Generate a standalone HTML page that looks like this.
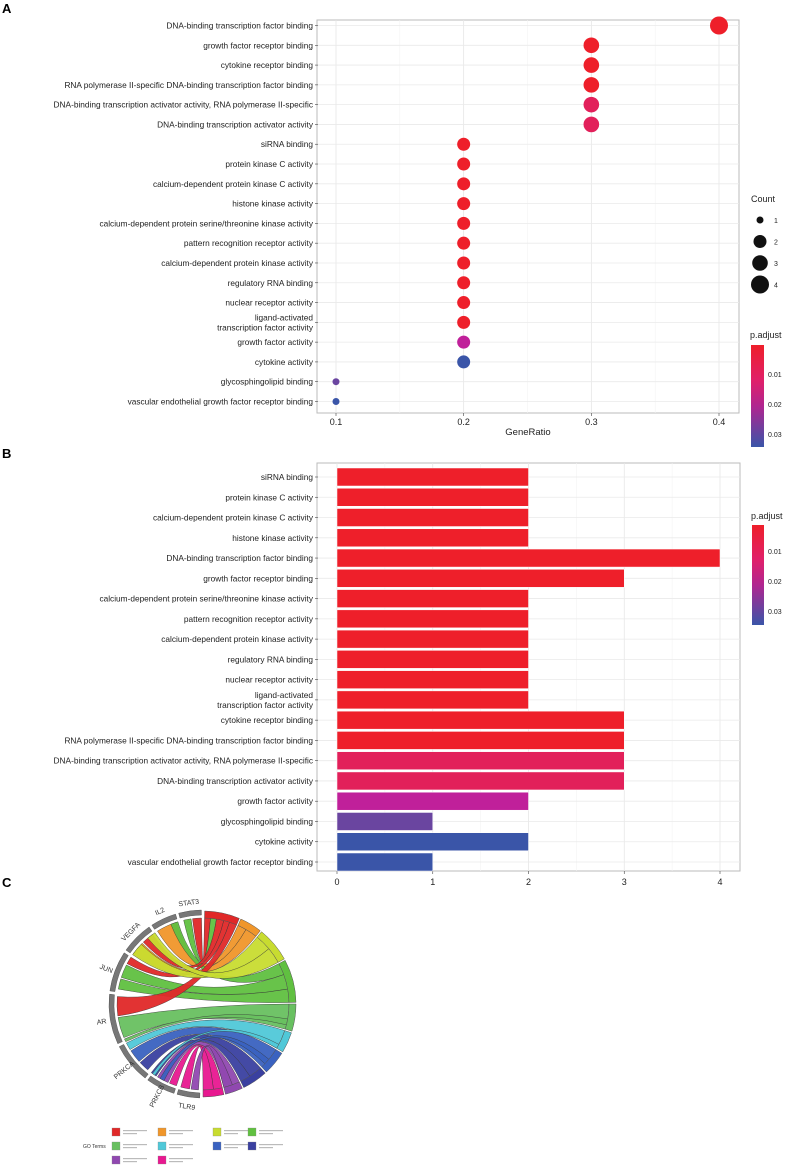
<!DOCTYPE html>
<html><head><meta charset="utf-8"><style>
body{margin:0;background:#fff;}
svg{display:block;font-family:"Liberation Sans",sans-serif;}
</style></head><body>
<svg id="s" width="785" height="1167" viewBox="0 0 785 1167" xmlns="http://www.w3.org/2000/svg">
<text x="2" y="13" font-size="13" font-weight="bold">A</text>
<text x="2" y="458" font-size="13" font-weight="bold">B</text>
<text x="2" y="887" font-size="13" font-weight="bold">C</text>
<g id="A"></g>
<g id="B"></g>
<g id="C"></g>
<defs>
<linearGradient id="pg" x1="0" y1="0" x2="0" y2="1"><stop offset="0" stop-color="#ee1f2a"/><stop offset="0.35" stop-color="#e0206a"/><stop offset="0.6" stop-color="#b02590"/><stop offset="1" stop-color="#3a55a8"/></linearGradient>
</defs>
</svg>
<script>
const NS="http://www.w3.org/2000/svg";
function mk(p,t,a,txt){const e=document.createElementNS(NS,t);for(const k in a)e.setAttribute(k,a[k]);if(txt!==undefined)e.textContent=txt;p.appendChild(e);return e;}
const RED="#ee1f2a",PINK="#e2205a",MAG="#c0209a",BLUE="#3a55a8",PURP="#6a45a0";
// Panel A data
const aTerms=["DNA-binding transcription factor binding","growth factor receptor binding","cytokine receptor binding","RNA polymerase II-specific DNA-binding transcription factor binding","DNA-binding transcription activator activity, RNA polymerase II-specific","DNA-binding transcription activator activity","siRNA binding","protein kinase C activity","calcium-dependent protein kinase C activity","histone kinase activity","calcium-dependent protein serine/threonine kinase activity","pattern recognition receptor activity","calcium-dependent protein kinase activity","regulatory RNA binding","nuclear receptor activity","ligand-activated|transcription factor activity","growth factor activity","cytokine activity","glycosphingolipid binding","vascular endothelial growth factor receptor binding"];
const aRatio=[0.4,0.3,0.3,0.3,0.3,0.3,0.2,0.2,0.2,0.2,0.2,0.2,0.2,0.2,0.2,0.2,0.2,0.2,0.1,0.1];
const aCount=[4,3,3,3,3,3,2,2,2,2,2,2,2,2,2,2,2,2,1,1];
const aColor=[RED,RED,RED,RED,PINK,PINK,RED,RED,RED,RED,RED,RED,RED,RED,RED,RED,MAG,BLUE,PURP,BLUE];
const aTicks=[0.1,0.2,0.3,0.4];
// Panel B data
const bTerms=["siRNA binding","protein kinase C activity","calcium-dependent protein kinase C activity","histone kinase activity","DNA-binding transcription factor binding","growth factor receptor binding","calcium-dependent protein serine/threonine kinase activity","pattern recognition receptor activity","calcium-dependent protein kinase activity","regulatory RNA binding","nuclear receptor activity","ligand-activated|transcription factor activity","cytokine receptor binding","RNA polymerase II-specific DNA-binding transcription factor binding","DNA-binding transcription activator activity, RNA polymerase II-specific","DNA-binding transcription activator activity","growth factor activity","glycosphingolipid binding","cytokine activity","vascular endothelial growth factor receptor binding"];
const bCount=[2,2,2,2,4,3,2,2,2,2,2,2,3,3,3,3,2,1,2,1];
const bColor=[RED,RED,RED,RED,RED,RED,RED,RED,RED,RED,RED,RED,RED,RED,PINK,PINK,MAG,PURP,BLUE,BLUE];
const bTicks=[0,1,2,3,4];

function label(g,txt,x,y){
  const parts=txt.split("|");
  if(parts.length==1){const t=mk(g,"text",{x:x,y:y+3,"font-size":"8.3","text-anchor":"end",fill:"#222"},txt);}
  else parts.forEach((p,i)=>{const t=mk(g,"text",{x:x,y:y+3+(i-0.5)*10,"font-size":"8.3","text-anchor":"end",fill:"#222"},p);});
  mk(g,"line",{x1:x+2,x2:x+5,y1:y,y2:y,stroke:"#444","stroke-width":0.6});
}
// Panel A
(function(){
 const g=document.getElementById("A");
 const L=317,R=739,T=20,Bt=413;
 const xs=v=>336+(v-0.1)*(719-336)/0.3;
 const ys=i=>25.5+i*(401.5-25.5)/19;
 mk(g,"rect",{x:L,y:T,width:R-L,height:Bt-T,fill:"#fff",stroke:"#bbb","stroke-width":1});
 for(let i=0;i<aTicks.length-1;i++){const m=(aTicks[i]+aTicks[i+1])/2;mk(g,"line",{x1:xs(m),x2:xs(m),y1:T,y2:Bt,stroke:"#f3f3f3","stroke-width":0.6});}
 aTicks.forEach(v=>{mk(g,"line",{x1:xs(v),x2:xs(v),y1:T,y2:Bt,stroke:"#e6e6e6","stroke-width":0.8});
  mk(g,"line",{x1:xs(v),x2:xs(v),y1:Bt,y2:Bt+3,stroke:"#444","stroke-width":0.6});
  const t=mk(g,"text",{x:xs(v),y:Bt+12,"font-size":"9","text-anchor":"middle",fill:"#222"},v.toFixed(1));});
 aTerms.forEach((n,i)=>{mk(g,"line",{x1:L,x2:R,y1:ys(i),y2:ys(i),stroke:"#eaeaea","stroke-width":0.8});label(g,n,L-4,ys(i));});
 const rad=c=>[0,3.5,6.5,7.8,9][c];
 aTerms.forEach((n,i)=>{const c=mk(g,"circle",{cx:xs(aRatio[i]),cy:ys(i),r:rad(aCount[i]),fill:aColor[i]});});
 let t=mk(g,"text",{x:528,y:435,"font-size":"9.5","text-anchor":"middle",fill:"#222"},"GeneRatio");
 t=mk(g,"text",{x:751,y:202,"font-size":"9",fill:"#222"},"Count");
 [1,2,3,4].forEach((c,i)=>{const y=220+i*21.5;mk(g,"circle",{cx:760,cy:y,r:rad(c),fill:"#111"});const tt=mk(g,"text",{x:774,y:y+3,"font-size":"7",fill:"#222"},c);});
 t=mk(g,"text",{x:750,y:338,"font-size":"9",fill:"#222"},"p.adjust");
 mk(g,"rect",{x:751,y:345,width:13,height:102,fill:"url(#pg)"});
 [["0.01",374],["0.02",404],["0.03",434]].forEach(d=>{const tt=mk(g,"text",{x:768,y:d[1]+3,"font-size":"7",fill:"#222"},d[0]);});
})();
// Panel B
(function(){
 const g=document.getElementById("B");
 const L=317,R=740,T=463,Bt=871;
 const xs=v=>337+v*(720-337)/4;
 const ys=i=>477+i*(862-477)/19;
 mk(g,"rect",{x:L,y:T,width:R-L,height:Bt-T,fill:"#fff",stroke:"#bbb","stroke-width":1});
 for(let i=0;i<bTicks.length-1;i++){const m=(bTicks[i]+bTicks[i+1])/2;mk(g,"line",{x1:xs(m),x2:xs(m),y1:T,y2:Bt,stroke:"#f3f3f3","stroke-width":0.6});}
 bTicks.forEach(v=>{mk(g,"line",{x1:xs(v),x2:xs(v),y1:T,y2:Bt,stroke:"#e6e6e6","stroke-width":0.8});
  mk(g,"line",{x1:xs(v),x2:xs(v),y1:Bt,y2:Bt+3,stroke:"#444","stroke-width":0.6});
  const t=mk(g,"text",{x:xs(v),y:Bt+14,"font-size":"9","text-anchor":"middle",fill:"#222"},v);});
 bTerms.forEach((n,i)=>{mk(g,"line",{x1:L,x2:R,y1:ys(i),y2:ys(i),stroke:"#eaeaea","stroke-width":0.8});label(g,n,L-4,ys(i));});
 bTerms.forEach((n,i)=>{const r=mk(g,"rect",{x:xs(0),y:ys(i)-9,width:xs(bCount[i])-xs(0),height:18,fill:bColor[i],stroke:"#fff","stroke-width":0.5});});
 let t=mk(g,"text",{x:751,y:519,"font-size":"9",fill:"#222"},"p.adjust");
 mk(g,"rect",{x:752,y:525,width:12,height:100,fill:"url(#pg)"});
 [["0.01",551],["0.02",581],["0.03",611]].forEach(d=>{const tt=mk(g,"text",{x:768,y:d[1]+3,"font-size":"7",fill:"#222"},d[0]);});
})();
// Panel C chord
const genes=["STAT3","IL2","VEGFA","JUN","AR","PRKCA","PRKCB","TLR9"];
const geneStart=[345,327,305,278,245,218,198,182];
const geneEnd=[359,343,325,303,276,243,216,196];
const termColors=["#e02828","#f0962a","#c8dc30","#60c040","#68c060","#50c8d8","#3a62c0","#3a40a0","#9048b0","#e81890"];
const termStart=[1,24,39,62,90,108,122,138,155,167];
const termEnd=[23,38,61,89,107,121,137,154,166,180];
const links=[[353,359,1,5,0],[347,352,5,9,3],[328,342,24,30,1],[338,343,62,70,3],[316,324,9,14,0],[306,315,30,38,1],[298,303,14,18,0],[288,297,70,80,3],[280,287,80,89,3],[262,275,18,23,0],[247,261,90,107,4],[305,314,39,50,2],[320,326,50,61,2],[238,243,108,121,5],[228,237,122,137,6],[220,227,138,147,7],[213,217,147,154,7],[204,212,155,166,8],[198,203,167,173,9],[189,195,173,180,9],[183,188,160,166,8],[244,246,100,104,4],[214,216,118,121,5],[207,210,130,134,6]];
(function(){
 const g=document.getElementById("C");
 const cx=203,cy=1004,r=86;
 const pt=(a,rr)=>{const t=a*Math.PI/180;return [cx+rr*Math.sin(t),cy-rr*Math.cos(t)];};
 const arc=(a1,a2,r1,r2)=>{const p1=pt(a1,r2),p2=pt(a2,r2),p3=pt(a2,r1),p4=pt(a1,r1);const lg=(a2-a1)>180?1:0;
  return `M${p1}A${r2},${r2} 0 ${lg} 1 ${p2}L${p3}A${r1},${r1} 0 ${lg} 0 ${p4}Z`;};
 links.forEach(l=>{const [g1,g2,t1,t2,ti]=l;const a=pt(g1,r),b=pt(g2,r),c=pt(t1,r),d=pt(t2,r);
  const p=`M${a}A${r},${r} 0 0 1 ${b}Q${cx},${cy} ${c}A${r},${r} 0 0 1 ${d}Q${cx},${cy} ${a}Z`;
  const e=mk(g,"path",{d:p,fill:termColors[ti],stroke:"#333","stroke-width":0.4,"fill-opacity":0.95});});
 termColors.forEach((c,i)=>{const e=mk(g,"path",{d:arc(termStart[i],termEnd[i],r,r+7),fill:c,stroke:"#555","stroke-width":0.5});});
 genes.forEach((n,i)=>{const e=mk(g,"path",{d:arc(geneStart[i],geneEnd[i],r+3,r+8),fill:"#777",stroke:"#444","stroke-width":0.4});
  const m=(geneStart[i]+geneEnd[i])/2;const p=pt(m,r+17);
  const t=mk(g,"text",{x:p[0],y:p[1]+3,"font-size":"7","text-anchor":"middle",fill:"#333",transform:`rotate(${m>300||m<200?m-360+ (m<200?180:0):m-270} ${p[0]} ${p[1]})`},n);});
 let t=mk(g,"text",{x:83,y:1148,"font-size":"5",fill:"#333"},"GO Terms");
 const lx=[112,158,213,248],ly=[1132,1146,1160];
 const order=[[0,0,0],[1,1,0],[2,2,0],[3,3,0],[4,0,1],[5,1,1],[6,2,1],[7,3,1],[8,0,2],[9,1,2]];
 order.forEach(o=>{const x=lx[o[1]],y=ly[o[2]];const s=mk(g,"rect",{x:x,y:y-4,width:8,height:8,fill:termColors[o[0]],stroke:"#888","stroke-width":0.3});
  mk(g,"rect",{x:x+11,y:y-2,width:24,height:1.2,fill:"#bbb"});mk(g,"rect",{x:x+11,y:y+1,width:14,height:1.2,fill:"#bbb"});});
})();
</script>
</body></html>
